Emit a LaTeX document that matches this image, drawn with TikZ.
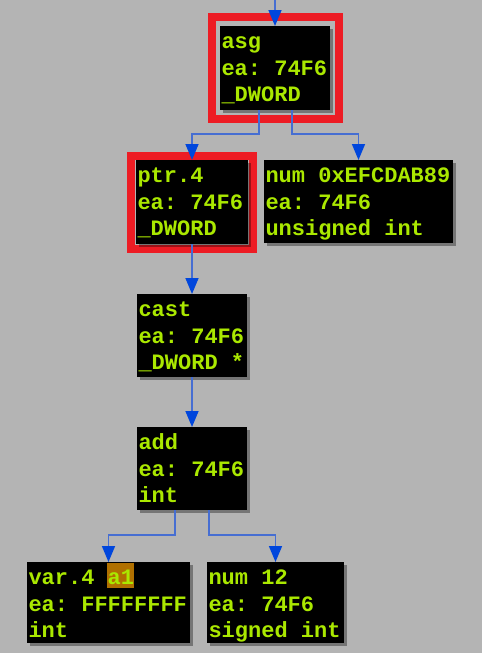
\documentclass[tikz,border=0pt]{standalone}
\usepackage{fontspec}
\setmonofont{Liberation Mono}
\usetikzlibrary{arrows.meta,shadows}
\definecolor{bgc}{RGB}{180,180,180}
\definecolor{txtc}{RGB}{170,232,0}
\definecolor{redc}{RGB}{237,28,36}
\definecolor{linec}{RGB}{70,110,210}
\definecolor{arrc}{RGB}{0,70,220}
\definecolor{hlc}{RGB}{176,112,0}
\tikzset{
  gbox/.style={fill=black, inner sep=0pt, outer sep=0pt, anchor=north west,
    drop shadow={shadow xshift=3pt, shadow yshift=-3pt, fill=black, opacity=0.35}},
  txt/.style={anchor=base west, inner sep=0pt, outer sep=0pt, text=txtc,
    font=\fontsize{22}{26}\selectfont\ttfamily\bfseries},
  edge/.style={draw=linec, line width=1.6pt,
    -{Triangle[width=13pt,length=16pt,color=arrc]}},
  redframe/.style={draw=redc, line width=8pt},
}
\newcommand\boxlines[4]{%
  \node[txt] (#1-a) at ([xshift=1.5pt,yshift=-22.5pt]#1.north west) {#2};
  \node[txt] (#1-b) at ([xshift=1.5pt,yshift=-49pt]#1.north west) {#3};
  \node[txt] (#1-c) at ([xshift=1.5pt,yshift=-75.5pt]#1.north west) {#4};}
\begin{document}
\begin{tikzpicture}[x=1pt,y=-1pt]
\useasboundingbox (0,0) rectangle (482,653);
\fill[bgc] (0,0) rectangle (482,653);
% red frames
\draw[redframe] (212,17) rectangle (339,119);
\draw[redframe] (131,156) rectangle (253,249);
% boxes
\node[gbox, minimum width=110pt, minimum height=84pt] (asg) at (220,26) {};
\node[gbox, minimum width=112pt, minimum height=84pt] (ptr) at (136,160) {};
\node[gbox, minimum width=189pt, minimum height=83pt] (num) at (264,160) {};
\node[gbox, minimum width=110pt, minimum height=83pt] (cast) at (137,294) {};
\node[gbox, minimum width=110pt, minimum height=83pt] (add) at (137,427) {};
\node[gbox, minimum width=163pt, minimum height=81pt] (varn) at (27,562) {};
\node[gbox, minimum width=137pt, minimum height=81pt] (numb) at (207,562) {};
% edges
\coordinate (top) at (275,0);
\draw[edge] (top) -- (asg.north);
\draw[edge] ([xshift=-16pt]asg.south) -- ++(0,24) -| (ptr.north);
\draw[edge] ([xshift=17pt]asg.south) -- ++(0,24) -| (num.north);
\draw[edge] (ptr.south) -- (cast.north);
\draw[edge] (cast.south) -- (add.north);
\draw[edge] ([xshift=-17pt]add.south) -- ++(0,25) -| (varn.north);
\draw[edge] ([xshift=17pt]add.south) -- ++(0,25) -| (numb.north);
% highlight
\fill[hlc] (107,563) rectangle (134,588);
% texts
\boxlines{asg}{asg}{ea: 74F6}{\_DWORD}
\boxlines{ptr}{ptr.4}{ea: 74F6}{\_DWORD}
\boxlines{num}{num 0xEFCDAB89}{ea: 74F6}{unsigned int}
\boxlines{cast}{cast}{ea: 74F6}{\_DWORD *}
\boxlines{add}{add}{ea: 74F6}{int}
\boxlines{varn}{var.4 a1}{ea: FFFFFFFF}{int}
\boxlines{numb}{num 12}{ea: 74F6}{signed int}
\end{tikzpicture}
\end{document}
